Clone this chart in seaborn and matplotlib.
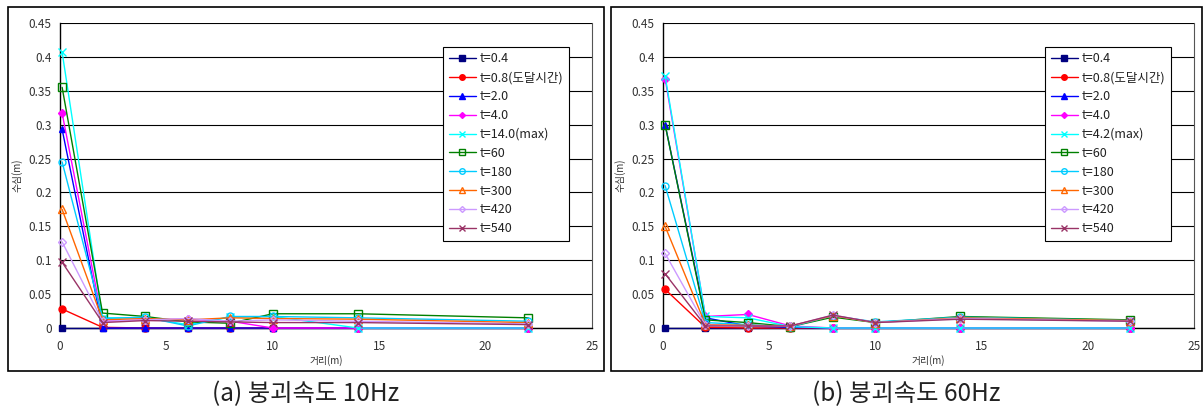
import numpy as np
import pandas as pd
import seaborn as sns
import matplotlib.pyplot as plt
from matplotlib.patches import Rectangle
from matplotlib.lines import Line2D

# distance along channel (m)
distance = [0.1, 2, 4, 6, 8, 10, 14, 22]

labels_10hz = ['t=0.4', 't=0.8(도달시간)', 't=2.0', 't=4.0', 't=14.0(max)',
               't=60', 't=180', 't=300', 't=420', 't=540']
labels_60hz = ['t=0.4', 't=0.8(도달시간)', 't=2.0', 't=4.0', 't=4.2(max)',
               't=60', 't=180', 't=300', 't=420', 't=540']

# water depth (m), collapse speed 10Hz
depth_10hz = [
    [0.000, 0.000, 0.000, 0.000, 0.000, 0.000, 0.000, 0.000],
    [0.028, 0.001, 0.000, 0.000, 0.000, 0.000, 0.000, 0.000],
    [0.293, 0.000, 0.000, 0.000, 0.000, 0.000, 0.000, 0.000],
    [0.317, 0.010, 0.012, 0.013, 0.010, 0.000, 0.000, 0.000],
    [0.407, 0.015, 0.015, 0.005, 0.016, 0.017, 0.000, 0.000],
    [0.355, 0.022, 0.017, 0.009, 0.007, 0.021, 0.021, 0.015],
    [0.245, 0.014, 0.016, 0.003, 0.017, 0.017, 0.015, 0.010],
    [0.175, 0.012, 0.014, 0.012, 0.015, 0.014, 0.013, 0.008],
    [0.127, 0.010, 0.012, 0.014, 0.010, 0.012, 0.010, 0.006],
    [0.097, 0.008, 0.011, 0.010, 0.009, 0.008, 0.008, 0.005],
]

# water depth (m), collapse speed 60Hz
depth_60hz = [
    [0.000, 0.000, 0.000, 0.000, 0.000, 0.000, 0.000, 0.000],
    [0.057, 0.001, 0.000, 0.000, 0.000, 0.000, 0.000, 0.000],
    [0.300, 0.015, 0.003, 0.001, 0.000, 0.000, 0.000, 0.000],
    [0.368, 0.017, 0.020, 0.003, 0.000, 0.000, 0.000, 0.000],
    [0.372, 0.017, 0.015, 0.002, 0.000, 0.000, 0.000, 0.000],
    [0.300, 0.012, 0.008, 0.002, 0.016, 0.008, 0.017, 0.012],
    [0.210, 0.008, 0.005, 0.002, 0.018, 0.009, 0.016, 0.011],
    [0.150, 0.005, 0.004, 0.003, 0.018, 0.008, 0.015, 0.011],
    [0.110, 0.004, 0.003, 0.003, 0.019, 0.008, 0.014, 0.010],
    [0.080, 0.003, 0.003, 0.003, 0.019, 0.008, 0.013, 0.010],
]

colors = ['#000080', '#FF0000', '#0000FF', '#FF00FF', '#00FFFF',
          '#008000', '#00CCFF', '#FF6600', '#CC99FF', '#993366']
markers = ['s', 'o', '^', 'D', 'x', 's', 'o', '^', 'D', 'x']
filled = [True, True, True, True, True, False, False, False, False, True]
msizes = [5, 5, 5, 4, 6, 6, 5, 6, 4, 6]

sns.set_style('white')
plt.rcParams['font.family'] = ['Noto Sans CJK KR', 'DejaVu Sans']

fig = plt.figure(figsize=(12.03, 4.18), dpi=100)
W, H = 1203, 418


def fx(px):
    return px / W


def fy(py):
    return 1 - py / H


def draw_panel(x0, x1, frame, labels, depth, caption):
    # outer frame
    fl, fr = frame
    fig.patches.append(Rectangle((fx(fl), fy(371)), fx(fr - fl), (371 - 7) / H,
                                 transform=fig.transFigure, fill=False,
                                 edgecolor='black', linewidth=1.2))
    ax = fig.add_axes([fx(x0), fy(328), fx(x1 - x0), (328 - 23) / H])
    rows = []
    for lab, vals in zip(labels, depth):
        for d, v in zip(distance, vals):
            rows.append({'거리': d, '수심': v, 'series': lab})
    df = pd.DataFrame(rows)
    handles = []
    for i, lab in enumerate(labels):
        sub = df[df['series'] == lab]
        c = colors[i]
        mfc = c if filled[i] else 'none'
        sns.lineplot(data=sub, x='거리', y='수심', ax=ax, color=c, linewidth=1.0,
                     marker=markers[i], markersize=msizes[i], markerfacecolor=mfc,
                     markeredgecolor=c, markeredgewidth=1.0, zorder=3 + i,
                     clip_on=False)
        handles.append(Line2D([0], [0], color=c, linewidth=1.0, marker=markers[i],
                              markersize=msizes[i] - 1, markerfacecolor=mfc,
                              markeredgecolor=c, label=lab))
    ax.set_xlim(0, 25)
    ax.set_ylim(0, 0.45)
    ax.set_xticks([0, 5, 10, 15, 20, 25])
    ax.set_yticks(np.arange(0, 0.451, 0.05))
    ax.set_yticklabels(['0', '0.05', '0.1', '0.15', '0.2', '0.25', '0.3', '0.35', '0.4', '0.45'])
    ax.yaxis.grid(True, color='black', linewidth=0.8)
    ax.xaxis.grid(False)
    ax.tick_params(axis='both', labelsize=8.5, colors='#333333', length=0, pad=6)
    ax.tick_params(axis='x', pad=9)
    for s in ['left', 'bottom']:
        ax.spines[s].set_color('black')
        ax.spines[s].set_linewidth(1.0)
    ax.spines['top'].set_visible(False)
    ax.spines['right'].set_color('#555555')
    ax.set_xlabel('거리(m)', fontsize=7, color='#333333', labelpad=1)
    ax.set_ylabel('수심(m)', fontsize=7, color='#333333', labelpad=4)
    leg = ax.legend(handles=handles, loc='upper right', bbox_to_anchor=(0.957, 0.922),
                    borderaxespad=0, fontsize=9, frameon=True, fancybox=False,
                    edgecolor='black', handlelength=2.2, handletextpad=0.3,
                    labelspacing=0.47, borderpad=0.45, framealpha=1)
    leg.get_frame().set_linewidth(0.8)
    for t in leg.get_texts():
        t.set_color('#222222')
    fig.text(fx((fl + fr) / 2), fy(394), caption, fontsize=17.5, ha='center', va='center',
             color='#222222')
    return ax


draw_panel(60, 592, (8, 604), labels_10hz, depth_10hz, '(a) 붕괴속도 10Hz')
draw_panel(663, 1194, (611, 1202), labels_60hz, depth_60hz, '(b) 붕괴속도 60Hz')

fig.savefig('out.png', dpi=100)
